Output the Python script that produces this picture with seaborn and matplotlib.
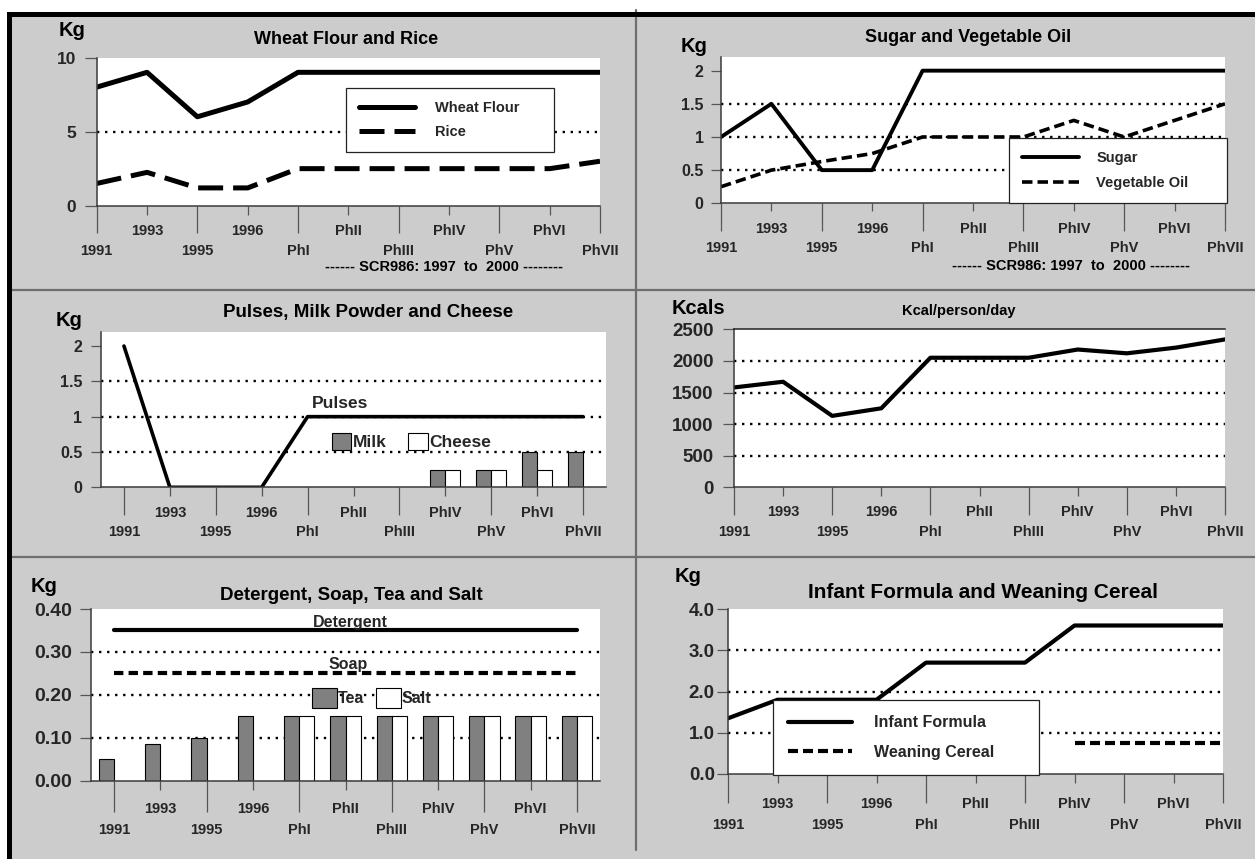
import numpy as np
import pandas as pd
import matplotlib
matplotlib.use("Agg")
import matplotlib.pyplot as plt
import seaborn as sns
from matplotlib.lines import Line2D
from matplotlib.patches import Patch, Rectangle
from matplotlib.ticker import FuncFormatter

NA = np.nan

# ---- ration data per distribution period --------------------------------
periods = ["1991", "1993", "1995", "1996", "PhI", "PhII", "PhIII",
           "PhIV", "PhV", "PhVI", "PhVII"]

wheat_flour = [8, 9, 6, 7, 9, 9, 9, 9, 9, 9, 9]
rice = [1.5, 2.25, 1.2, 1.2, 2.5, 2.5, 2.5, 2.5, 2.5, 2.5, 3.0]

sugar = [1, 1.5, 0.5, 0.5, 2, 2, 2, 2, 2, 2, 2]
vegetable_oil = [0.25, 0.5, 0.63, 0.75, 1, 1, 1, 1.25, 1, 1.25, 1.5]

pulses = [2, 0, 0, 0, 1, 1, 1, 1, 1, 1, 1]
milk = [NA, NA, NA, NA, NA, NA, NA, 0.25, 0.25, 0.5, 0.5]
cheese = [NA, NA, NA, NA, NA, NA, NA, 0.25, 0.25, 0.25, NA]

kcal = [1580, 1670, 1130, 1250, 2050, 2050, 2050, 2180, 2120, 2210, 2340]

detergent = [0.35] * 11
soap = [0.25] * 11
tea = [0.05, 0.085, 0.10, 0.15, 0.15, 0.15, 0.15, 0.15, 0.15, 0.15, 0.15]
salt = [NA, NA, NA, NA, 0.15, 0.15, 0.15, 0.15, 0.15, 0.15, 0.15]

infant_formula = [1.35, 1.8, 1.8, 1.8, 2.7, 2.7, 2.7, 3.6, 3.6, 3.6, 3.6]
weaning_cereal = [NA, NA, NA, NA, NA, NA, NA, 0.75, 0.75, 0.75, 0.75]

# value-axis ticks of each panel
kg_ticks_cereal = [0, 5, 10]
kg_ticks_small = [0, 0.5, 1, 1.5, 2]
kcal_ticks = [0, 500, 1000, 1500, 2000, 2500]
kg_ticks_household = [0, 0.1, 0.2, 0.3, 0.4]
kg_ticks_infant = [0, 1, 2, 3, 4]

caption = "------ SCR986: 1997  to  2000 --------"

# ---- styling -------------------------------------------------------------
W, H = 1255, 859
GREY = "#cccccc"
RULE = "#6e6e6e"
TICK_GREY = "#555555"
BAR_GREY = "#808080"
DOTTED = (0, (1, 2.4))
PERIOD_SIZE = 10.5

sns.set_style("white")
plt.rcParams["font.family"] = ["Liberation Sans", "DejaVu Sans"]
plt.rcParams["font.weight"] = "bold"

fig = plt.figure(figsize=(W / 100, H / 100), dpi=100)
fig.patch.set_facecolor("white")


def fx(x):
    return x / W


def fy(y):
    return 1 - y / H


# sheet background, heavy black outer rules and grey panel dividers
fig.add_artist(Rectangle((fx(7), 0), 1 - fx(7), fy(12), transform=fig.transFigure,
                         facecolor=GREY, edgecolor="none", zorder=-10))
fig.add_artist(Rectangle((fx(7), fy(17)), 1 - fx(7), 5 / H, transform=fig.transFigure,
                         facecolor="black", edgecolor="none", zorder=-8))
fig.add_artist(Rectangle((fx(7), 0), 5 / W, fy(12), transform=fig.transFigure,
                         facecolor="black", edgecolor="none", zorder=-8))
for yy in (290, 557):
    fig.add_artist(Line2D([fx(12), 1], [fy(yy), fy(yy)], transform=fig.transFigure,
                          color=RULE, lw=1.6, zorder=-9))
fig.add_artist(Line2D([fx(636), fx(636)], [fy(10), fy(850)], transform=fig.transFigure,
                      color=RULE, lw=1.6, zorder=-9))

pos = np.arange(len(periods))


def long_frame(**series):
    df = pd.DataFrame({"pos": pos, **series})
    return df.melt(id_vars="pos", var_name="item", value_name="value").dropna()


def panel(x0, y0, x1, y1):
    ax = fig.add_axes([fx(x0), fy(y1), (x1 - x0) / W, (y1 - y0) / H])
    ax.set_facecolor("white")
    for side in ("top", "right"):
        ax.spines[side].set_visible(False)
    for side in ("left", "bottom"):
        ax.spines[side].set_color("#3a3a3a")
        ax.spines[side].set_linewidth(1.1)
    return ax


def draw_line(ax, frame, name, lw, ls="-", label=True):
    sns.lineplot(data=frame[frame["item"] == name], x="pos", y="value", ax=ax,
                 color="black", linewidth=lw, linestyle=ls,
                 label=name if label else None, legend=label)


def period_axis(ax, xlim, short_len, long_len, short_pad, long_pad, size=PERIOD_SIZE):
    even, odd = pos[::2], pos[1::2]
    ax.set_xticks(even, [periods[i] for i in even])
    ax.set_xticks(odd, [periods[i] for i in odd], minor=True)
    ax.tick_params(axis="x", which="major", bottom=True, direction="out",
                   length=long_len, pad=long_pad, width=0.9, color=TICK_GREY,
                   labelsize=size)
    ax.tick_params(axis="x", which="minor", bottom=True, direction="out",
                   length=short_len, pad=short_pad, width=0.9, color=TICK_GREY,
                   labelsize=size)
    ax.set_xlim(*xlim)
    ax.set_xlabel("")


def value_axis(ax, ticks, fmt, size, pad, length=8.5, top=None):
    ax.set_yticks(ticks)
    ax.yaxis.set_major_formatter(FuncFormatter(lambda v, _: fmt.format(v)))
    ax.tick_params(axis="y", which="major", left=True, direction="out",
                   length=length, width=0.9, color=TICK_GREY, pad=pad,
                   labelsize=size)
    for v in ticks[1:-1]:
        ax.axhline(v, color="black", lw=1.7, linestyle=DOTTED, zorder=0.6)
    ax.set_ylim(0, top if top is not None else ticks[-1])
    ax.set_ylabel("")


def line_legend(ax, box, size, handlelength, handletextpad, labelspacing, borderpad):
    x0, y0, x1, _ = box
    handles, labels = ax.get_legend_handles_labels()
    leg = ax.legend(handles, labels, loc="upper left",
                    bbox_to_anchor=(fx(x0), fy(y0), (x1 - x0) / W, 0),
                    bbox_transform=fig.transFigure, mode="expand", borderaxespad=0,
                    frameon=True, fancybox=False, framealpha=1, facecolor="white",
                    edgecolor="#222222", prop={"size": size, "weight": "bold"},
                    handlelength=handlelength, handletextpad=handletextpad,
                    labelspacing=labelspacing, borderpad=borderpad)
    leg.get_frame().set_linewidth(0.9)
    return leg


def box_legend(ax, names, colors, anchor, size, hl, hh, tp, cs):
    handles = [Patch(facecolor=c, edgecolor="black", linewidth=0.8, label=n)
               for n, c in zip(names, colors)]
    ax.legend(handles=handles, loc="upper left",
              bbox_to_anchor=(fx(anchor[0]), fy(anchor[1])),
              bbox_transform=fig.transFigure, ncol=len(names), frameon=False,
              borderpad=0, borderaxespad=0, handlelength=hl, handleheight=hh,
              handletextpad=tp, columnspacing=cs,
              prop={"size": size, "weight": "bold"})


def label(x, y, s, size):
    fig.text(fx(x), fy(y), s, ha="center", va="center", fontsize=size,
             fontweight="bold", color="black")


# ---- Wheat Flour and Rice ------------------------------------------------
ax1 = panel(96.7, 57.5, 600, 205.7)
cereal = long_frame(**{"Wheat Flour": wheat_flour, "Rice": rice})
draw_line(ax1, cereal, "Wheat Flour", 3.6)
draw_line(ax1, cereal, "Rice", 3.6, (0, (5, 2)))
period_axis(ax1, (0, 10), 6.7, 19.7, 6.2, 7.6)
value_axis(ax1, kg_ticks_cereal, "{:g}", 12.5, 6.3)
line_legend(ax1, (346, 88, 554, 149), 10.5, 3.8, 1.4, 0.68, 0.9)
label(346, 40, "Wheat Flour and Rice", 13)
label(72, 31, "Kg", 14.5)
label(444, 267, caption, 10.5)

# ---- Sugar and Vegetable Oil ---------------------------------------------
ax2 = panel(721, 57.4, 1225, 203.3)
sweet = long_frame(**{"Sugar": sugar, "Vegetable Oil": vegetable_oil})
draw_line(ax2, sweet, "Sugar", 2.8)
draw_line(ax2, sweet, "Vegetable Oil", 2.6, (0, (2.9, 1.4)))
period_axis(ax2, (0, 10), 6.0, 19.9, 7.8, 6.9)
value_axis(ax2, kg_ticks_small, "{:g}", 11.5, 5.6, length=7, top=2.2)
line_legend(ax2, (1009, 138, 1227, 201), 10.5, 3.9, 1.2, 0.72, 0.9)
label(968, 38, "Sugar and Vegetable Oil", 13)
label(694, 47, "Kg", 14.5)
label(1071, 266, caption, 10.5)

# ---- Pulses, Milk Powder and Cheese --------------------------------------
ax3 = panel(101, 331.9, 606, 487.3)
dairy = long_frame(Milk=milk, Cheese=cheese)
sns.barplot(data=dairy, x="pos", y="value", hue="item", hue_order=["Milk", "Cheese"],
            palette={"Milk": BAR_GREY, "Cheese": "white"}, native_scale=True,
            orient="x", dodge=True, width=0.66, saturation=1, errorbar=None,
            edgecolor="black", linewidth=0.8, legend=False, ax=ax3)
legumes = long_frame(Pulses=pulses)
draw_line(ax3, legumes, "Pulses", 2.6, label=False)
period_axis(ax3, (-0.5, 10.5), 6.8, 20.0, 6.9, 6.9)
value_axis(ax3, kg_ticks_small, "{:g}", 11.5, 6.3, length=7.2, top=2.2)
box_legend(ax3, ["Milk", "Cheese"], [BAR_GREY, "white"], (332, 432.7), 12.5,
           1.12, 1.18, 0.08, 1.25)
ax3.text(4.7, 1.18, "Pulses", ha="center", va="center", fontsize=12.5, fontweight="bold")
label(368, 313, "Pulses, Milk Powder and Cheese", 13.5)
label(69.4, 320, "Kg", 14.5)

# ---- Kcal/person/day -----------------------------------------------------
ax4 = panel(734, 329.3, 1225, 487.3)
energy = long_frame(Kcal=kcal)
draw_line(ax4, energy, "Kcal", 3.0, label=False)
period_axis(ax4, (0, 10), 6.3, 19.9, 6.2, 6.9)
value_axis(ax4, kcal_ticks, "{:.0f}", 13.5, 6.5, length=8)
ax4.spines["top"].set_visible(True)
ax4.spines["top"].set_color("#222222")
ax4.spines["top"].set_linewidth(1.1)
label(959, 311, "Kcal/person/day", 10.5)
label(698, 309, "Kcals", 14.5)

# ---- Detergent, Soap, Tea and Salt ---------------------------------------
ax5 = panel(91, 609, 600, 780.7)
groceries = long_frame(Tea=tea, Salt=salt)
sns.barplot(data=groceries, x="pos", y="value", hue="item", hue_order=["Tea", "Salt"],
            palette={"Tea": BAR_GREY, "Salt": "white"}, native_scale=True,
            orient="x", dodge=True, width=0.66, saturation=1, errorbar=None,
            edgecolor="black", linewidth=0.8, legend=False, ax=ax5)
cleaning = long_frame(Detergent=detergent, Soap=soap)
draw_line(ax5, cleaning, "Detergent", 3.0, label=False)
draw_line(ax5, cleaning, "Soap", 3.0, (0, (2.25, 1.25)), label=False)
period_axis(ax5, (-0.5, 10.5), 6.7, 22.5, 8.3, 7.6)
value_axis(ax5, kg_ticks_household, "{:.2f}", 14, 5.8, length=8)
box_legend(ax5, ["Tea", "Salt"], [BAR_GREY, "white"], (312, 688), 11.5,
           1.56, 1.56, 0.05, 0.75)
ax5.text(5.1, 0.369, "Detergent", ha="center", va="center", fontsize=11.5, fontweight="bold")
ax5.text(5.05, 0.271, "Soap", ha="center", va="center", fontsize=11.5, fontweight="bold")
label(351, 595, "Detergent, Soap, Tea and Salt", 13.5)
label(44, 587, "Kg", 14.5)

# ---- Infant Formula and Weaning Cereal -----------------------------------
ax6 = panel(728, 609, 1223, 774)
infant = long_frame(**{"Infant Formula": infant_formula, "Weaning Cereal": weaning_cereal})
draw_line(ax6, infant, "Infant Formula", 3.0)
draw_line(ax6, infant, "Weaning Cereal", 3.0, (0, (2.4, 1.2)))
period_axis(ax6, (0, 10), 6.5, 20.9, 9.7, 10.5)
value_axis(ax6, kg_ticks_infant, "{:.1f}", 13.5, 1.5, length=8)
line_legend(ax6, (773, 700, 1038.5, 773), 11.5, 4.0, 1.35, 0.9, 0.95)
label(983, 592, "Infant Formula and Weaning Cereal", 15)
label(688, 577, "Kg", 14.5)

fig.savefig("out.png", dpi=100, facecolor=fig.get_facecolor())
